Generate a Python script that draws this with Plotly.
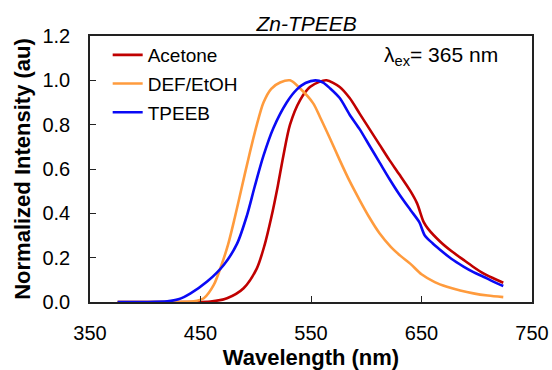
import plotly.graph_objects as go

# Acetone
wl_acetone = [375, 400, 420, 440, 459, 474, 489, 501, 508, 514, 520, 525, 531, 540, 549, 557, 564,
              576, 585, 594, 603, 612, 621, 630, 640, 646, 652, 656, 667, 677, 688, 697, 706, 715, 724]
int_acetone = [0, 0, 0, 0.0, 0.002, 0.017, 0.062, 0.152, 0.257, 0.38, 0.525, 0.66, 0.8, 0.91, 0.97, 0.992, 1.0,
               0.97, 0.92, 0.85, 0.78, 0.71, 0.64, 0.575, 0.5, 0.445, 0.36, 0.33, 0.272, 0.23, 0.19, 0.158, 0.129, 0.107, 0.087]

# DEF/EtOH
wl_def = [375, 400, 420, 435, 444, 453, 462, 469, 475, 481, 487, 494, 501, 507, 514, 522, 531, 540, 552, 558,
          567, 576, 585, 594, 603, 612, 622, 631, 640, 650, 662, 673, 685, 697, 710, 724]
int_def = [0, 0, 0, 0.001, 0.003, 0.017, 0.077, 0.167, 0.26, 0.38, 0.51, 0.66, 0.8, 0.9, 0.962, 0.99, 1.0, 0.964, 0.896, 0.836,
           0.74, 0.64, 0.545, 0.46, 0.38, 0.31, 0.25, 0.208, 0.172, 0.125, 0.09, 0.069, 0.052, 0.039, 0.029, 0.022]

# TPEEB
wl_tpeeb = [375, 400, 420, 430, 441, 456, 471, 483, 492, 499, 507, 516, 528, 537, 545, 554, 561, 567,
            576, 585, 594, 603, 612, 621, 630, 640, 648, 653, 660, 667, 677, 688, 697, 706, 715, 724]
int_tpeeb = [0, 0, 0.003, 0.012, 0.039, 0.092, 0.167, 0.262, 0.39, 0.52, 0.66, 0.785, 0.9, 0.958, 0.988, 1.0, 0.99, 0.965,
             0.92, 0.845, 0.78, 0.705, 0.63, 0.555, 0.485, 0.415, 0.36, 0.3, 0.265, 0.235, 0.195, 0.16, 0.135, 0.114, 0.092, 0.072]

x_ticks = [350, 450, 550, 650, 750]
y_ticks = [0.0, 0.2, 0.4, 0.6, 0.8, 1.0, 1.2]

FONT = "Liberation Sans, Arial, sans-serif"

fig = go.Figure()
series = [
    ("Acetone", wl_acetone, int_acetone, "#C00000"),
    ("DEF/EtOH", wl_def, int_def, "#FF9B3D"),
    ("TPEEB", wl_tpeeb, int_tpeeb, "#0A0AF5"),
]
for name, x, y, c in series:
    fig.add_trace(go.Scatter(x=x, y=y, name=name, mode="lines", legendgroup=name,
                             line=dict(color=c, width=2.6, shape="spline", smoothing=0.8)))

fig.update_layout(
    width=552, height=370,
    margin=dict(l=90, r=20, t=36, b=68, autoexpand=False),
    paper_bgcolor="white", plot_bgcolor="white",
    font=dict(family=FONT, size=20, color="black"),
    title=dict(text="<i>Zn-TPEEB</i>", x=0.49, xref="paper", xanchor="center",
               y=1 - 24 / 370, yref="container", yanchor="middle",
               font=dict(family=FONT, size=21, color="black")),
    showlegend=True,
    legend=dict(x=0.04, y=1.0, xanchor="left", yanchor="top",
                bgcolor="rgba(0,0,0,0)", font=dict(family=FONT, size=19),
                traceorder="grouped", tracegroupgap=1, itemwidth=30),
    annotations=[dict(text="λ<sub>ex</sub>= 365 nm", x=0.928, y=0.925, xref="paper", yref="paper",
                      xanchor="right", yanchor="middle", showarrow=False,
                      font=dict(family=FONT, size=21, color="black"))],
)
fig.update_xaxes(range=[350, 750], tickvals=x_ticks, ticktext=[str(v) for v in x_ticks],
                 ticks="inside", ticklen=6, tickwidth=1.2, tickcolor="#222",
                 showline=True, linecolor="#222", linewidth=1.5, mirror=True,
                 showgrid=False, zeroline=False, ticklabelstandoff=12, automargin=False,
                 tickfont=dict(family=FONT, size=20),
                 title=dict(text="<b>Wavelength (nm)</b>", standoff=8, font=dict(family=FONT, size=22)))
fig.update_yaxes(range=[0, 1.2], tickvals=y_ticks, ticktext=[f"{v:.1f}" for v in y_ticks],
                 ticks="inside", ticklen=6, tickwidth=1.2, tickcolor="#222",
                 showline=True, linecolor="#222", linewidth=1.5, mirror=True,
                 showgrid=False, zeroline=False, ticklabelstandoff=14, automargin=False,
                 tickfont=dict(family=FONT, size=20),
                 title=dict(text="<b>Normalized Intensity (au)</b>", standoff=6, font=dict(family=FONT, size=22)))

fig.write_html("out.html", config={"displayModeBar": False},
               post_script="document.body.style.margin='0';document.body.style.overflow='hidden';")
